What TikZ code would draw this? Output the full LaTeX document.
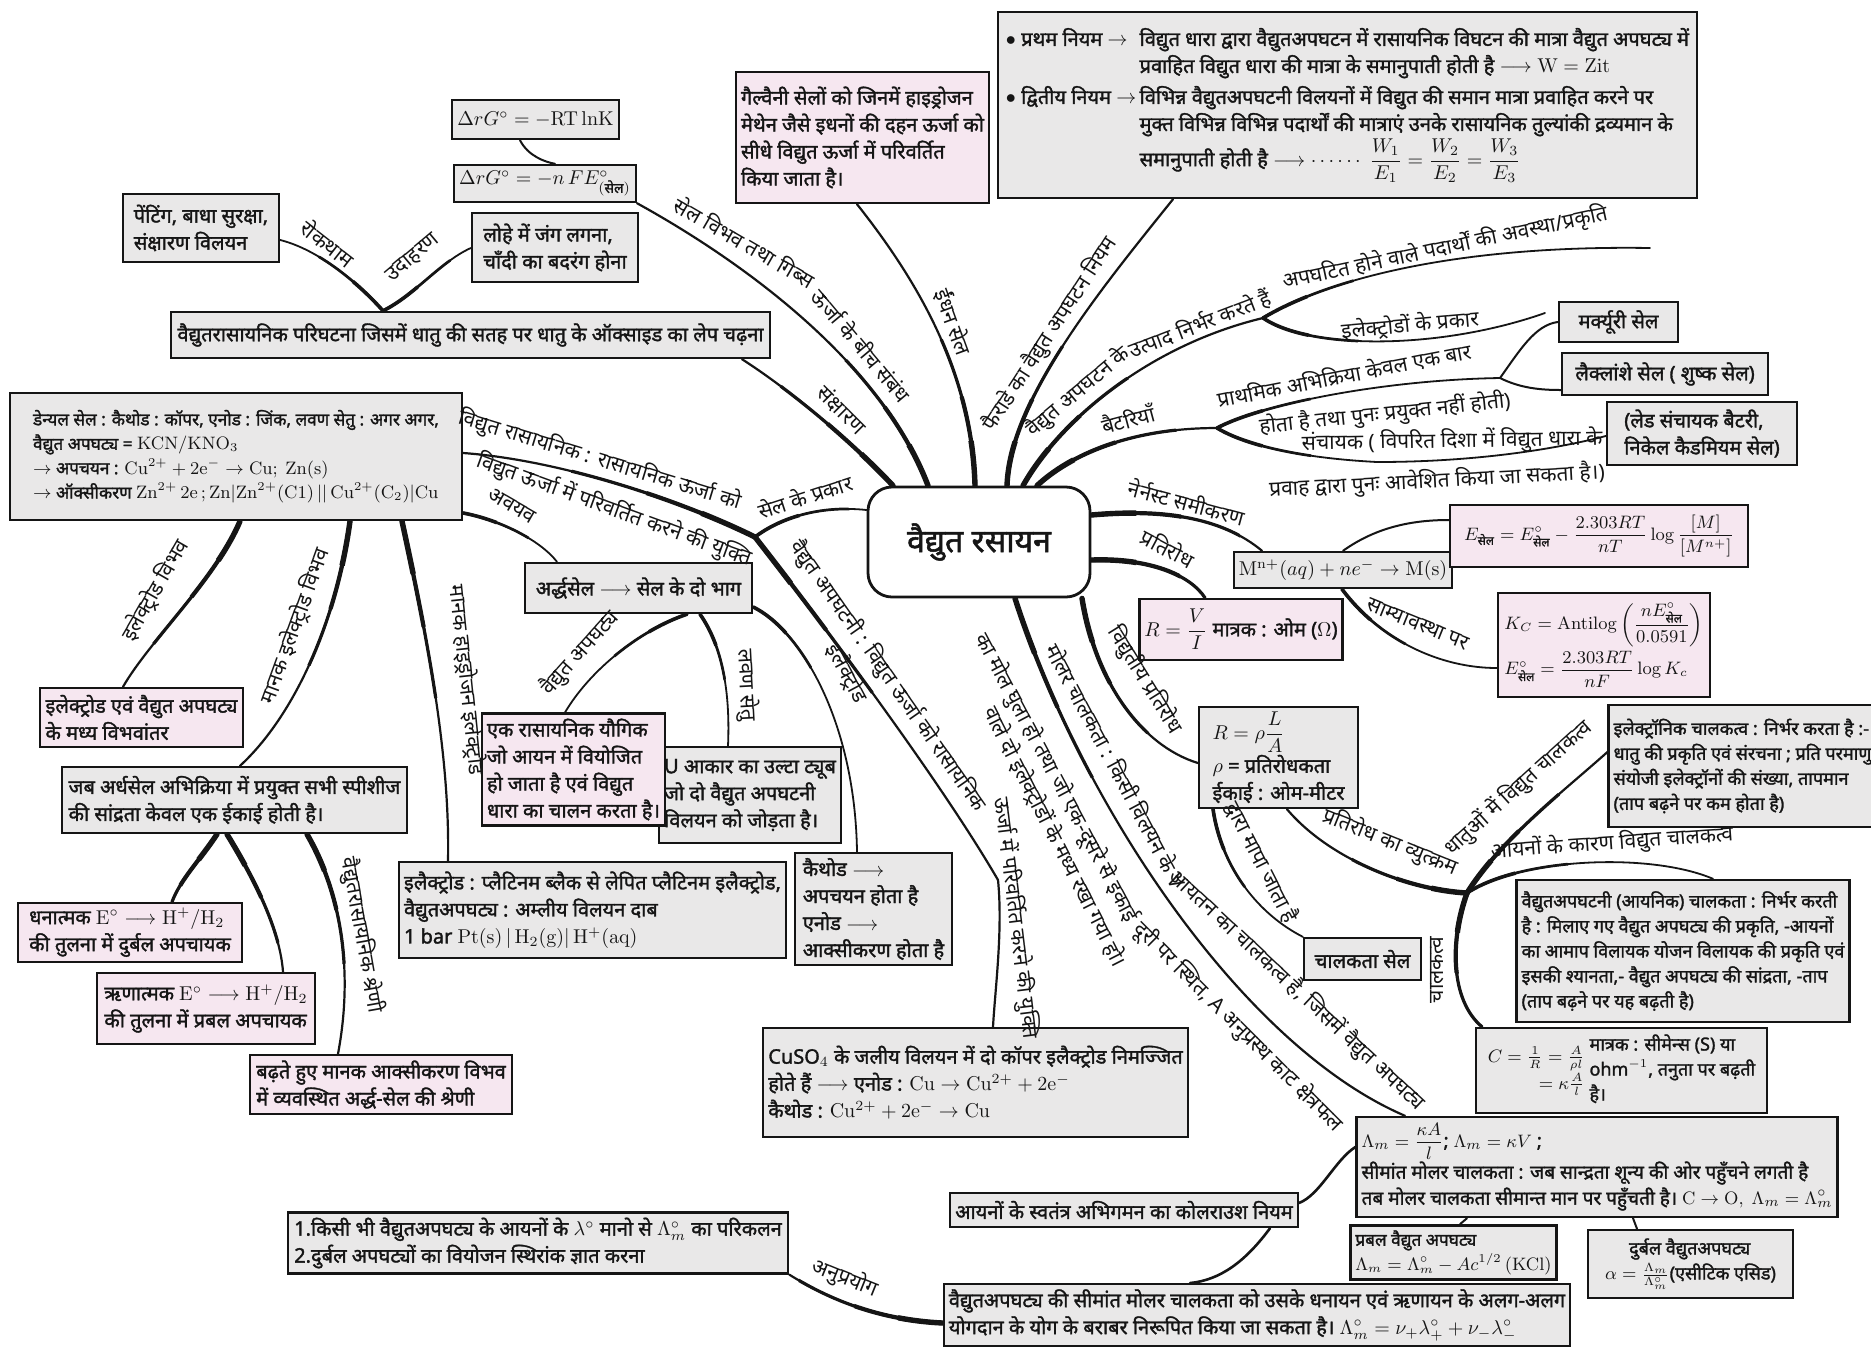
\documentclass[tikz,border=0pt]{standalone}
\usepackage{amsmath}
\usepackage[no-math]{fontspec}
\setmainfont[Script=Devanagari, AutoFakeBold=1.6]{Noto Sans}
\usetikzlibrary{calc}

\definecolor{ink}{HTML}{151515}
\definecolor{boxgray}{HTML}{E9E8E8}
\definecolor{boxpink}{HTML}{F6E7F0}

\pgfdeclarelayer{bg}
\pgfsetlayers{bg,main}

% box given by its corner coordinates
\newcommand\boxat[7]{%
  \node[#1, minimum width={(#5-#3)*0.5pt}, minimum height={(#6-#4)*0.5pt}]
    (#2) at ({(#3+#5)/2},{(#4+#6)/2}) {#7};}

% tapered main branch: [reach] {thick end} {path}
\newcommand\tbr[3][1]{%
  \draw[ink, line width=1.1pt, line cap=round] #3;
  \begin{scope}\clip (#2) circle[radius={150*#1}];
    \draw[ink, line width=1.6pt, line cap=round] #3;\end{scope}
  \begin{scope}\clip (#2) circle[radius={90*#1}];
    \draw[ink, line width=2.1pt, line cap=round] #3;\end{scope}
  \begin{scope}\clip (#2) circle[radius={45*#1}];
    \draw[ink, line width=2.7pt, line cap=round] #3;\end{scope}}
% tapered side branch
\newcommand\tbs[3][1]{%
  \draw[ink, line width=0.9pt, line cap=round] #3;
  \begin{scope}\clip (#2) circle[radius={70*#1}];
    \draw[ink, line width=1.35pt, line cap=round] #3;\end{scope}
  \begin{scope}\clip (#2) circle[radius={35*#1}];
    \draw[ink, line width=1.8pt, line cap=round] #3;\end{scope}}

\begin{document}
\begin{tikzpicture}[x=0.5pt, y=-0.5pt,
  bx/.style={draw=ink, line width=1.2pt, fill=boxgray, inner sep=2.5pt, align=left, text=ink,
    font=\fontsize{10}{13.5}\selectfont\bfseries},
  pk/.style={bx, fill=boxpink},
  sm/.style={font=\fontsize{9}{12.5}\selectfont\bfseries},
  xs/.style={font=\fontsize{8.6}{12.2}\selectfont\bfseries},
  lab/.style={inner sep=1pt, text=ink, font=\fontsize{10.5}{12}\selectfont},
  sb/.style={draw=ink, line width=1.3pt, line cap=round},
  tn/.style={draw=ink, line width=1pt, line cap=round}]

\begin{pgfonlayer}{bg}
\fill[white] (0,0) rectangle (1871,1350);
\end{pgfonlayer}
\useasboundingbox (0,0) rectangle (1871,1350);

% ---------- central topic ----------
\node[draw=ink, line width=1.4pt, rounded corners=12pt, fill=white, text=ink,
  minimum width=111pt, minimum height=55pt,
  font=\fontsize{16}{18}\selectfont\bfseries] (root) at (979,542) {वैद्युत रसायन};

% ---------- corrosion and Gibbs energy ----------
\boxat{bx}{dGa}{453}{100}{618}{139}{$\Delta rG^{\circ} = -\mathrm{RT\,lnK}$}
\boxat{bx}{dGb}{457}{165}{633}{202}{$\Delta rG^{\circ} = -n\,FE^{\circ}_{(\text{सेल})}$}
\boxat{bx}{rust}{472}{213}{638}{282}{लोहे में जंग लगना,\\ चाँदी का बदरंग होना}
\boxat{bx}{paint}{123}{194}{279}{262}{पेंटिंग, बाधा सुरक्षा,\\ संक्षारण विलयन}
\boxat{bx}{corr}{171}{312}{770}{358}{वैद्युतरासायनिक परिघटना जिसमें धातु की सतह पर धातु के ऑक्साइड का लेप चढ़ना}
\boxat{pk}{fuel}{737}{72}{988}{203}{गैल्वैनी सेलों को जिनमें हाइड्रोजन\\ मेथेन जैसे इधनों की दहन ऊर्जा को\\ सीधे विद्युत ऊर्जा में परिवर्तित\\ किया जाता है।}

% ---------- Faraday's laws ----------
\boxat{bx}{faraday}{998}{12}{1697}{198}{%
\begin{tabular}{@{}l@{\,}l@{}}
$\bullet$ प्रथम नियम $\rightarrow$ & विद्युत धारा द्वारा वैद्युतअपघटन में रासायनिक विघटन की मात्रा वैद्युत अपघट्य में\\
& प्रवाहित विद्युत धारा की मात्रा के समानुपाती होती है $\longrightarrow \mathrm{W = Zit}$\\[2pt]
$\bullet$ द्वितीय नियम $\rightarrow$ & विभिन्न वैद्युतअपघटनी विलयनों में विद्युत की समान मात्रा प्रवाहित करने पर\\
& मुक्त विभिन्न विभिन्न पदार्थों की मात्राएं उनके रासायनिक तुल्यांकी द्रव्यमान के\\
& समानुपाती होती है $\longrightarrow \cdots\cdots\ \dfrac{W_1}{E_1}=\dfrac{W_2}{E_2}=\dfrac{W_3}{E_3}$
\end{tabular}}

% ---------- batteries ----------
\boxat{bx}{merc}{1559}{302}{1678}{342}{मर्क्यूरी सेल}
\boxat{bx}{lecl}{1562}{353}{1768}{395}{लैक्लांशे सेल ( शुष्क सेल)}
\boxat{bx}{lead}{1607}{402}{1797}{465}{(लेड संचायक बैटरी,\\ निकेल कैडमियम सेल)}

% ---------- Nernst equation ----------
\boxat{bx}{mn}{1251}{552}{1435}{588}{$\mathrm{M^{n+}}(aq) + ne^{-} \rightarrow \mathrm{M(s)}$}
\boxat{pk,sm}{ecell}{1450}{505}{1748}{567}{$E_{\text{सेल}} = E^{\circ}_{\text{सेल}} - \dfrac{2.303RT}{nT}\log\dfrac{[M]}{[M^{n+}]}$}
\boxat{pk,sm}{kc}{1498}{593}{1710}{697}{$K_C = \mathrm{Antilog}\left(\dfrac{nE^{\circ}_{\text{सेल}}}{0.0591}\right)$\\[1pt] $E^{\circ}_{\text{सेल}} = \dfrac{2.303RT}{nF}\log K_c$}

% ---------- resistance and conductance ----------
\boxat{pk}{rvi}{1147}{599}{1335}{660}{$R = \dfrac{V}{I}$ मात्रक : ओम ($\Omega$)}
\boxat{bx}{rrho}{1199}{707}{1358}{808}{$R = \rho\dfrac{L}{A}$\\ $\rho$ = प्रतिरोधकता\\ ईकाई : ओम-मीटर}
\boxat{bx}{ccell}{1304}{938}{1421}{980}{चालकता सेल}
\boxat{bx,sm}{elec}{1617}{705}{1868}{827}{इलेक्ट्रॉनिक चालकत्व : निर्भर करता है :-\\ धातु की प्रकृति एवं संरचना ; प्रति परमाणु\\ संयोजी इलेक्ट्रॉनों की संख्या, तापमान\\ (ताप बढ़ने पर कम होता है)}
\boxat{bx,sm}{ionic}{1518}{880}{1848}{1022}{वैद्युतअपघटनी (आयनिक) चालकता : निर्भर करती\\ है : मिलाए गए वैद्युत अपघट्य की प्रकृति, -आयनों\\ का आमाप विलायक योजन विलायक की प्रकृति एवं\\ इसकी श्यानता,- वैद्युत अपघट्य की सांद्रता, -ताप\\ (ताप बढ़ने पर यह बढ़ती है)}
\boxat{bx,sm}{cbox}{1476}{1031}{1767}{1110}{%
\begin{tabular}{@{}c@{\ }l@{}}
\begin{tabular}[c]{@{}r@{}}$C = \frac{1}{R} = \frac{A}{\rho l}$\\[1pt] $= \kappa\frac{A}{l}$\end{tabular} &
\begin{tabular}[c]{@{}l@{}}मात्रक : सीमेन्स (S) या\\ ohm$^{-1}$, तनुता पर बढ़ती\\ है।\end{tabular}
\end{tabular}}

% ---------- molar conductivity ----------
\boxat{bx,font=\fontsize{9.5}{13}\selectfont\bfseries}{lam}{1357}{1117}{1837}{1217}{$\Lambda_m = \dfrac{\kappa A}{l}$; $\Lambda_m = \kappa V$ ;\\ सीमांत मोलर चालकता : जब सान्द्रता शून्य की ओर पहुँचने लगती है\\ तब मोलर चालकता सीमान्त मान पर पहुँचती है। $\mathrm{C} \rightarrow \mathrm{O},\ \Lambda_m = \Lambda^{\circ}_m$}
\boxat{bx,xs}{strong}{1362}{1228}{1545}{1277}{प्रबल वैद्युत अपघट्य\\ $\Lambda_m = \Lambda^{\circ}_m - Ac^{1/2}\,\mathrm{(KCl)}$}
\boxat{bx,sm}{weak}{1588}{1230}{1793}{1298}{\hspace*{12pt}दुर्बल वैद्युतअपघट्य\\ $\alpha = \frac{\Lambda_m}{\Lambda^{\circ}_m}$(एसीटिक एसिड)}
\boxat{bx}{kohl}{951}{1193}{1297}{1227}{आयनों के स्वतंत्र अभिगमन का कोलराउश नियम}
\boxat{bx}{bottom}{947}{1285}{1567}{1345}{वैद्युतअपघट्य की सीमांत मोलर चालकता को उसके धनायन एवं ऋणायन के अलग-अलग\\ योगदान के योग के बराबर निरूपित किया जा सकता है। $\Lambda^{\circ}_m = \nu_{+}\lambda^{\circ}_{+} + \nu_{-}\lambda^{\circ}_{-}$}
\boxat{bx}{appl}{288}{1213}{788}{1273}{1.किसी भी वैद्युतअपघट्य के आयनों के $\lambda^{\circ}$ मानो से $\Lambda^{\circ}_m$ का परिकलन\\ 2.दुर्बल अपघट्यों का वियोजन स्थिरांक ज्ञात करना}

% ---------- cells ----------
\boxat{bx}{cuso}{763}{1028}{1188}{1137}{CuSO$_4$ के जलीय विलयन में दो कॉपर इलैक्ट्रोड निमज्जित\\ होते हैं $\longrightarrow$ एनोड : $\mathrm{Cu \rightarrow Cu^{2+} + 2e^{-}}$\\ कैथोड : $\mathrm{Cu^{2+} + 2e^{-} \rightarrow Cu}$}
\boxat{bx}{cath}{795}{853}{952}{965}{कैथोड $\longrightarrow$\\ अपचयन होता है\\ एनोड $\longrightarrow$\\ आक्सीकरण होता है}
\boxat{bx}{pt}{400}{862}{785}{958}{इलैक्ट्रोड : प्लैटिनम ब्लैक से लेपित प्लैटिनम इलैक्ट्रोड,\\ वैद्युतअपघट्य : अम्लीय विलयन दाब\\ 1 bar $\mathrm{Pt(s)\,|\,H_2(g)|\,H^{+}(aq)}$}
\boxat{bx}{utube}{670}{747}{830}{843}{U आकार का उल्टा ट्यूब\\ जो दो वैद्युत अपघटनी\\ विलयन को जोड़ता है।}
\boxat{pk}{elyte}{485}{717}{662}{822}{एक रासायनिक यौगिक\\ जो आयन में वियोजित\\ हो जाता है एवं विद्युत\\ धारा का चालन करता है।}
\boxat{bx}{half}{525}{563}{752}{613}{अर्द्धसेल $\longrightarrow$ सेल के दो भाग}
\boxat{bx,xs}{daniel}{10}{393}{462}{520}{डेन्यल सेल : कैथोड : कॉपर, एनोड : जिंक, लवण सेतु : अगर अगर,\\ वैद्युत अपघट्य = $\mathrm{KCN/KNO_3}$\\ $\rightarrow$ अपचयन : $\mathrm{Cu^{2+} + 2e^{-} \rightarrow Cu;\ Zn(s)}$\\ $\rightarrow$ ऑक्सीकरण $\mathrm{Zn^{2+}\,2e\,;Zn|Zn^{2+}(C1)\,||\,Cu^{2+}(C_2)|Cu}$}
\boxat{pk}{eed}{40}{688}{243}{747}{इलेक्ट्रोड एवं वैद्युत अपघट्य\\ के मध्य विभवांतर}
\boxat{bx}{std}{62}{767}{407}{833}{जब अर्धसेल अभिक्रिया में प्रयुक्त सभी स्पीशीज\\ की सांद्रता केवल एक ईकाई होती है।}
\boxat{pk}{pos}{18}{905}{242}{960}{धनात्मक $\mathrm{E^{\circ}} \longrightarrow \mathrm{H^{+}/H_2}$\\ की तुलना में दुर्बल अपचायक}
\boxat{pk}{neg}{97}{973}{315}{1044}{ऋणात्मक $\mathrm{E^{\circ}} \longrightarrow \mathrm{H^{+}/H_2}$\\ की तुलना में प्रबल अपचायक}
\boxat{pk}{series}{250}{1055}{512}{1114}{बढ़ते हुए मानक आक्सीकरण विभव\\ में व्यवस्थित अर्द्ध-सेल की श्रेणी}

% ---------- junction points ----------
\coordinate (fk1) at (1263,318);
\coordinate (fk2) at (1217,428);
\coordinate (fk3) at (1500,378);
\coordinate (endstate) at (1650,248);
\coordinate (endetype) at (1545,313);
\coordinate (junc) at (1467,893);
\coordinate (j1) at (755,537);
\coordinate (jbend) at (998,880);

% ---------- connectors ----------
\begin{pgfonlayer}{bg}
% corrosion, Gibbs energy, fuel cell, Faraday
\tbr{root.north -| 893,0}{(corr.south -| 742,0) .. controls (790,390) and (850,440) .. (root.north -| 893,0)}
\tbr{root.north -| 928,0}{(dGb.south east) .. controls (740,260) and (880,360) .. (root.north -| 928,0)}
\draw[tn] (dGa.south -| 520,0) .. controls (528,156) and (545,162) .. (dGb.north -| 555,0);
\tbs[1.2]{corr.north -| 383,0}{(corr.north -| 383,0) .. controls (360,285) and (320,250) .. (paint.east |- 0,240)}
\tbs[1.2]{corr.north -| 383,0}{(corr.north -| 383,0) .. controls (415,295) and (440,262) .. (rust.west |- 0,248)}
\tbr{root.north -| 975,0}{(fuel.south -| 857,0) .. controls (925,290) and (972,380) .. (root.north -| 975,0)}
\tbr{root.north -| 1007,0}{(faraday.south -| 1173,0) .. controls (1100,290) and (1010,400) .. (root.north -| 1007,0)}
% products of electrolysis
\tbr{root.north -| 1023,0}{(root.north -| 1023,0) .. controls (1060,420) and (1150,345) .. (fk1)}
\tbs[1.4]{fk1}{(fk1) .. controls (1330,278) and (1460,245) .. (endstate)}
\tbs[1.4]{fk1}{(fk1) .. controls (1310,350) and (1440,350) .. (endetype)}
% batteries
\tbr{root.north -| 1037,0}{(root.north -| 1037,0) .. controls (1070,455) and (1130,428) .. (fk2)}
\tbs[1.4]{fk2}{(fk2) .. controls (1260,405) and (1380,380) .. (fk3)}
\draw[tn] (fk3) .. controls (1520,350) and (1535,325) .. (merc.west);
\draw[tn] (fk3) .. controls (1520,388) and (1540,390) .. (lecl.west |- 0,390);
\tbs[1.4]{fk2}{(fk2) .. controls (1245,445) and (1300,458) .. (1377,462) .. controls (1480,462) and (1560,448) .. (lead.west |- 0,436)}
% Nernst
\tbr{root.east |- 0,515}{(root.east |- 0,515) .. controls (1170,508) and (1225,520) .. (mn.north -| 1262,0)}
\draw[tn] (mn.north -| 1343,0) .. controls (1375,528) and (1410,520) .. (ecell.west |- 0,520);
\tbs[1.2]{mn.south -| 1342,0}{(mn.south -| 1342,0) .. controls (1380,640) and (1440,668) .. (kc.west |- 0,668)}
% resistance
\tbr{root.east |- 0,560}{(root.east |- 0,560) .. controls (1150,558) and (1190,575) .. (rvi.north -| 1205,0)}
\tbr{root.south -| 1082,0}{(root.south -| 1082,0) .. controls (1095,680) and (1140,745) .. (rrho.west |- 0,763)}
\tbr[0.8]{junc}{(rrho.south -| 1287,0) .. controls (1330,860) and (1410,890) .. (junc)}
\tbs[1.2]{rrho.south -| 1213,0}{(rrho.south -| 1213,0) .. controls (1222,870) and (1260,915) .. (ccell.north west)}
% conductance
\tbr[0.9]{junc}{(elec.west |- 0,752) .. controls (1565,790) and (1500,840) .. (junc)}
\tbr[0.9]{junc}{(junc) .. controls (1450,940) and (1450,1000) .. (cbox.north -| 1482,0)}
\tbs[1.5]{junc}{(junc) .. controls (1520,858) and (1650,852) .. (ionic.north -| 1713,0)}
% molar conductivity
\tbr[1.3]{root.south -| 1015,0}{(root.south -| 1015,0) .. controls (1080,800) and (1240,1045) .. (lam.north -| 1405,0)}
\draw[sb] (kohl.east |- 0,1203) .. controls (1320,1195) and (1335,1160) .. (lam.west |- 0,1147);
\draw[sb] (kohl.south -| 1270,0) .. controls (1245,1262) and (1220,1280) .. (bottom.north -| 1190,0);
\draw[tn] (lam.south -| 1467,0) -- (strong.north -| 1460,0);
\draw[tn] (lam.south -| 1633,0) -- (weak.north -| 1637,0);
\tbr{bottom.west |- 0,1323}{(appl.south east) .. controls (830,1300) and (880,1320) .. (bottom.west |- 0,1323)}
% types of cells
\tbr[1.3]{j1}{(daniel.east |- 0,453) .. controls (560,460) and (680,500) .. (j1)}
\tbr[1.3]{j1}{(j1) .. controls (820,620) and (940,780) .. (jbend) .. controls (1003,930) and (995,990) .. (cuso.north -| 993,0)}
\tbs[1.4]{j1}{(root.west |- 0,510) .. controls (820,505) and (780,518) .. (j1)}
\tbs{daniel.east |- 0,513}{(daniel.east |- 0,513) .. controls (500,520) and (540,540) .. (half.north -| 557,0)}
\tbs[1.2]{half.south -| 687,0}{(half.south -| 687,0) .. controls (640,630) and (590,670) .. (elyte.north -| 565,0)}
\tbs{half.south -| 700,0}{(half.south -| 700,0) .. controls (725,650) and (730,700) .. (utube.north -| 728,0)}
\tbs[1.2]{half.east |- 0,607}{(half.east |- 0,607) .. controls (800,630) and (855,720) .. (cath.north -| 857,0)}
% electrode potentials
\tbr{daniel.south -| 240,0}{(daniel.south -| 240,0) .. controls (215,580) and (150,640) .. (eed.north -| 123,0)}
\tbr{daniel.south -| 350,0}{(daniel.south -| 350,0) .. controls (335,630) and (290,720) .. (std.north -| 240,0)}
\tbr[1.2]{daniel.south -| 402,0}{(daniel.south -| 402,0) .. controls (430,650) and (450,760) .. (pt.north -| 448,0)}
\tbr[0.7]{std.south -| 217,0}{(std.south -| 217,0) .. controls (200,860) and (180,880) .. (pos.north -| 172,0)}
\tbr[0.8]{std.south -| 227,0}{(std.south -| 227,0) .. controls (255,880) and (280,930) .. (neg.north -| 283,0)}
\tbr[0.9]{std.south -| 307,0}{(std.south -| 307,0) .. controls (345,900) and (352,980) .. (series.north -| 338,0)}
\end{pgfonlayer}

% ---------- branch labels ----------
\node[lab, rotate=-45] (lsank) at (842,410) {संक्षारण};
\node[lab, rotate=-30] (lgibbsa) at (745,242) {सेल विभव तथा गिब्स};
\node[lab, rotate=-50] (lgibbsb) at (862,345) {ऊर्जा के बीच संबंध};
\node[lab, rotate=-38] (lrok) at (328,243) {रोकथाम};
\node[lab, rotate=40] (lex) at (413,258) {उदाहरण};
\node[lab, rotate=-70] (lfuel) at (953,322) {ईंधन सेल};
\node[lab, rotate=57] (lfar) at (1050,334) {फैराडे का वैद्युत अपघटन नियम};
\node[lab, rotate=40] (lproda) at (1078,392) {वैद्युत अपघटन के};
\node[lab, rotate=21] (lprodb) at (1200,324) {उत्पाद निर्भर करते हैं};
\node[lab, rotate=12] (lstate) at (1445,248) {अपघटित होने वाले पदार्थों की अवस्था/प्रकृति};
\node[lab, rotate=5] (letype) at (1410,325) {इलेक्ट्रोडों के प्रकार};
\node[lab, rotate=15] (lbatt) at (1128,419) {बैटरियाँ};
\node[lab, rotate=11] (lprima) at (1344,375) {प्राथमिक अभिक्रिया केवल एक बार};
\node[lab, rotate=6] (lprimb) at (1385,414) {होता है तथा पुनः प्रयुक्त नहीं होती)};
\node[lab, rotate=1] (lseca) at (1452,441) {संचायक ( विपरित दिशा में विद्युत धारा के};
\node[lab, rotate=3] (lsecb) at (1437,481) {प्रवाह द्वारा पुनः आवेशित किया जा सकता है।)};
\node[lab, rotate=-15] (lnernst) at (1187,502) {नेर्नस्ट समीकरण};
\node[lab, rotate=-22] (leq) at (1418,624) {साम्यावस्था पर};
\node[lab, rotate=-28] (lres) at (1168,548) {प्रतिरोध};
\node[lab, rotate=-58] (leres) at (1145,680) {विद्युतीय प्रतिरोध};
\node[lab, rotate=-22] (linv) at (1390,842) {प्रतिरोध का व्युत्क्रम};
\node[lab, rotate=-63] (lmeas) at (1262,862) {द्वारा मापा जाता है};
\node[lab, rotate=42] (lmetal) at (1518,788) {धातुओं में विद्युत चालकत्व};
\node[lab, rotate=4] (lion) at (1612,843) {आयनों के कारण विद्युत चालकत्व};
\node[lab, rotate=90] (lcond) at (1437,970) {चालकत्व};
\node[lab, rotate=-62] (lmola) at (1117,766) {मोलर चालकता : किसी विलयन के V};
\node[lab, rotate=-43] (lmolb) at (1297,990) {आयतन का चालकत्व है, जिसमें वैद्युत अपघट्य};
\node[lab, rotate=-62] (lmolc) at (1056,778) {का मोल घुला हो तथा जो एक-दूसरे से इकाई};
\node[lab, rotate=-45] (lmold) at (1238,1027) {दूरी पर स्थित, A अनुप्रस्थ काट क्षेत्रफल};
\node[lab, rotate=-63] (lmole) at (1055,837) {वाले दो इलेक्ट्रोडों के मध्य रखा गया हो।};
\node[lab, rotate=-22] (lapp) at (845,1278) {अनुप्रयोग};
\node[lab, rotate=18] (ltypes) at (805,496) {सेल के प्रकार};
\node[lab, rotate=-17] (lgala) at (600,460) {विद्युत रासायनिक : रासायनिक ऊर्जा को};
\node[lab, rotate=-20] (lgalb) at (614,510) {विद्युत ऊर्जा में परिवर्तित करने की युक्ति};
\node[lab, rotate=-55] (lelya) at (888,676) {वैद्युत अपघटनी : विद्युत ऊर्जा को रासायनिक};
\node[lab, rotate=-83] (lelyb) at (1016,918) {ऊर्जा में परिवर्तित करने की युक्ति};
\node[lab, rotate=-30] (lavay) at (512,506) {अवयव};
\node[lab, rotate=48] (lve) at (580,653) {वैद्युत अपघट्य};
\node[lab, rotate=-87] (lsalt) at (747,685) {लवण सेतु};
\node[lab, rotate=-62] (lelec) at (847,673) {इलैक्ट्रोड};
\node[lab, rotate=60] (lep) at (155,590) {इलेक्ट्रोड विभव};
\node[lab, rotate=70] (lsep) at (295,626) {मानक इलेक्ट्रोड विभव};
\node[lab, rotate=-84] (lshe) at (467,680) {मानक हाइड्रोजन इलेक्ट्रोड};
\node[lab, rotate=-80] (lecs) at (362,935) {वैद्युतरासायनिक श्रेणी};
\end{tikzpicture}
\end{document}
